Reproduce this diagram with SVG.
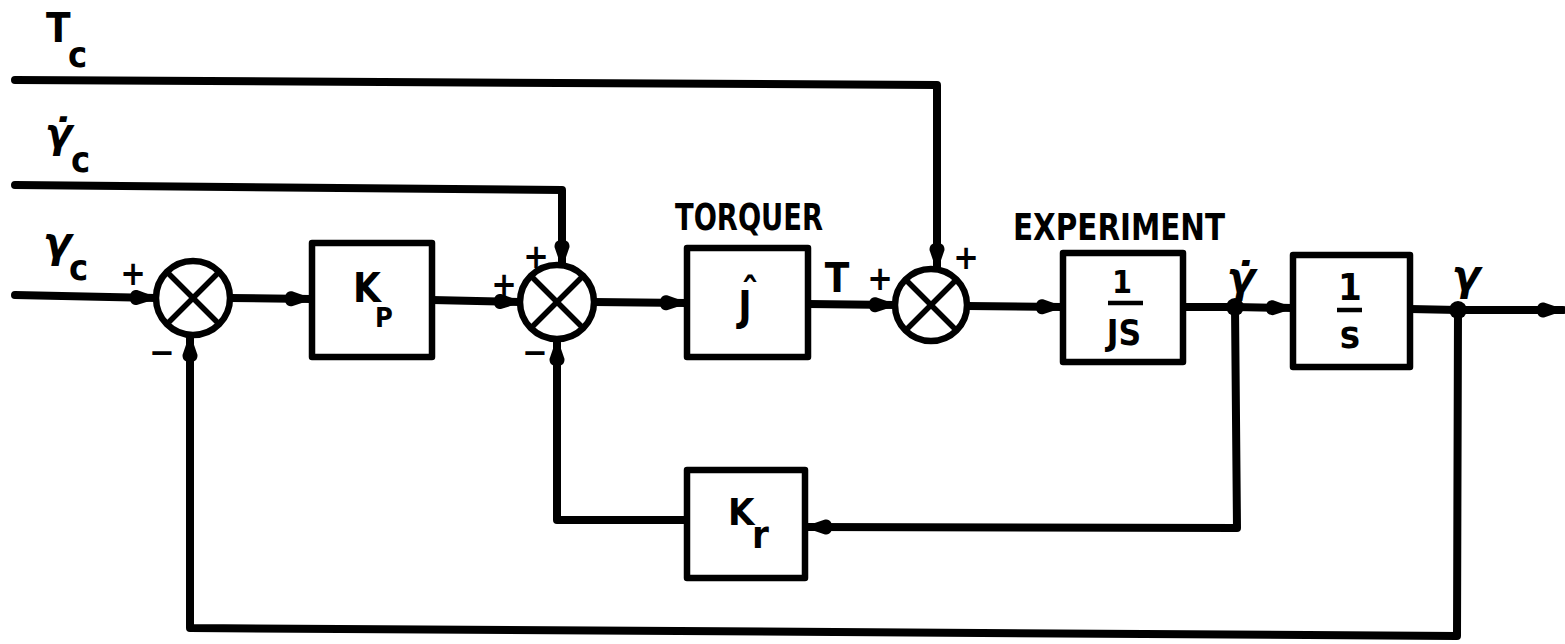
<svg xmlns="http://www.w3.org/2000/svg" width="1565" height="644" viewBox="0 0 1565 644">
<style>
.w{fill:none;stroke:#000;stroke-width:8;stroke-linecap:round;stroke-linejoin:round}
.box{fill:#fff;stroke:#000;stroke-width:6.5;stroke-linejoin:round}
.sum{fill:#fff;stroke:#000;stroke-width:6.5}
.x{stroke:#000;stroke-width:5.5}
.bar{stroke:#000;stroke-width:4.5}
text{font-family:"Liberation Sans Narrow","DejaVu Sans Condensed","Liberation Sans",sans-serif;font-weight:bold;fill:#000}
.g{font-family:"DejaVu Sans","Liberation Sans",sans-serif;font-style:italic}
.n{font-style:normal;font-family:"Liberation Sans Narrow","DejaVu Sans Condensed",sans-serif}
.s{font-size:34px;text-anchor:middle}
</style>
<defs>
<marker id="arr" markerUnits="userSpaceOnUse" markerWidth="28" markerHeight="20" refX="26" refY="10" orient="auto" overflow="visible">
<path d="M0,10 C0,4 3,2.5 7,2.5 L26,9 L26,11 L7,17.5 C3,17.5 0,16 0,10 Z" fill="#000"/>
</marker>
</defs>

<g id="labels-inputs">
<text x="46" y="42" font-size="40">T<tspan x="68" y="67" font-size="36">c</tspan></text>
<text class="g" x="45" y="147" font-size="40">γ̇<tspan class="n" x="71" y="172" font-size="36">c</tspan></text>
<text class="g" x="43" y="257" font-size="42">γ<tspan class="n" x="69" y="280" font-size="36">c</tspan></text>
</g>

<g id="connectors">
<path class="w" d="M15,80 L937,85 L937,269" marker-end="url(#arr)"/>
<path class="w" d="M15,185 L562,190 L562,266" marker-end="url(#arr)"/>
<path class="w" d="M15,295 L156,298" marker-end="url(#arr)"/>
<path class="w" d="M230,298 L311,299" marker-end="url(#arr)"/>
<path class="w" d="M432,300 L520,302" marker-end="url(#arr)"/>
<path class="w" d="M594,302 L686,303" marker-end="url(#arr)"/>
<path class="w" d="M808,304 L895,305" marker-end="url(#arr)"/>
<path class="w" d="M967,306 L1062,307" marker-end="url(#arr)"/>
<path class="w" d="M1183,307 L1235,307"/>
<path class="w" d="M1235,307 L1292,308" marker-end="url(#arr)"/>
<path class="w" d="M1410,309 L1458,310"/>
<path class="w" d="M1458,310 L1563,310" marker-end="url(#arr)"/>
<path class="w" d="M1235,307 L1237,528 L806,527" marker-end="url(#arr)"/>
<path class="w" d="M687,520 L557,520 L557,340" marker-end="url(#arr)"/>
<path class="w" d="M1458,310 L1457,636 L190,628 L190,336" marker-end="url(#arr)"/>
<circle cx="1235" cy="307" r="9" fill="#000"/>
<circle cx="1458" cy="310" r="9" fill="#000"/>
</g>

<g id="sum1">
<circle class="sum" cx="193" cy="298" r="37"/>
<line class="x" x1="167" y1="272" x2="219" y2="324"/>
<line class="x" x1="219" y1="272" x2="167" y2="324"/>
<text class="s" x="133" y="285">+</text>
<text class="s" x="162" y="364">−</text>
</g>

<g id="kp">
<rect class="box" x="312" y="243" width="120" height="114"/>
<text x="353" y="302" font-size="40">K<tspan x="375" y="327" font-size="27">P</tspan></text>
</g>

<g id="sum2">
<circle class="sum" cx="557" cy="302" r="37"/>
<line class="x" x1="531" y1="276" x2="583" y2="328"/>
<line class="x" x1="583" y1="276" x2="531" y2="328"/>
<text class="s" x="536" y="268">+</text>
<text class="s" x="504" y="296">+</text>
<text class="s" x="535" y="364">−</text>
</g>

<g id="torquer">
<text x="675" y="230" font-size="38" textLength="148" lengthAdjust="spacingAndGlyphs">TORQUER</text>
<rect class="box" x="687" y="248" width="121" height="109"/>
<text x="750" y="307" font-size="40" text-anchor="middle">ˆ<tspan x="745" y="320">J</tspan></text>
</g>

<text x="837" y="292" font-size="40" text-anchor="middle">T</text>

<g id="sum3">
<circle class="sum" cx="931" cy="305" r="36"/>
<line class="x" x1="906" y1="280" x2="956" y2="330"/>
<line class="x" x1="956" y1="280" x2="906" y2="330"/>
<text class="s" x="880" y="290">+</text>
<text class="s" x="966" y="269">+</text>
</g>

<g id="experiment">
<text x="1013" y="240" font-size="38" textLength="212" lengthAdjust="spacingAndGlyphs">EXPERIMENT</text>
<rect class="box" x="1063" y="253" width="120" height="109"/>
<text x="1122" y="293" font-size="32" text-anchor="middle">1</text>
<line class="bar" x1="1108" y1="303" x2="1143" y2="303"/>
<text x="1124" y="345" font-size="35" text-anchor="middle">JS</text>
</g>

<text class="g" x="1241" y="292" font-size="42" text-anchor="middle">γ̇</text>

<g id="integrator">
<rect class="box" x="1293" y="255" width="117" height="112"/>
<text x="1350" y="300" font-size="38" text-anchor="middle">1</text>
<line class="bar" x1="1337" y1="310" x2="1362" y2="310"/>
<text x="1350" y="348" font-size="38" text-anchor="middle">s</text>
</g>

<text class="g" x="1466" y="290" font-size="42" text-anchor="middle">γ</text>

<g id="kr">
<rect class="box" x="687" y="470" width="118" height="108"/>
<text x="728" y="525" font-size="38">K<tspan x="752" y="548">r</tspan></text>
</g>
</svg>
